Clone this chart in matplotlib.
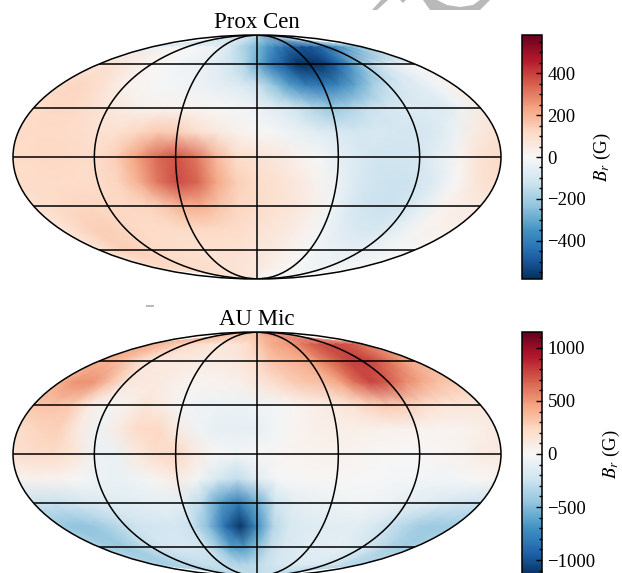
import matplotlib
matplotlib.use("Agg")
import matplotlib.pyplot as plt
import numpy as np
from matplotlib.colors import Normalize
from matplotlib.patches import Polygon
from matplotlib.ticker import MultipleLocator

plt.rcParams["font.family"] = ["Liberation Serif", "DejaVu Serif"]
plt.rcParams["mathtext.fontset"] = "stix"

lons = np.arange(-180, 181, 15)
lats = np.arange(-90, 91, 15)

# rows run from lat -90 up to lat +90, values in gauss
prox_br = [
    [70] * 13 + [10] * 12,
    [110, 110, 110, 110, 110, 105, 100, 95, 90, 85, 80, 70, 60, 45, 30, 15, 5, -5, -15, -20, -20, -20, -15, -10, -5],
    [85, 120, 140, 135, 115, 105, 100, 95, 90, 90, 90, 85, 70, 55, 35, 15, -5, -25, -40, -50, -45, -35, -20, -10, 0],
    [70, 110, 140, 140, 125, 115, 110, 110, 115, 120, 115, 105, 90, 70, 50, 25, -20, -60, -90, -100, -80, -40, 10, 30, 30],
    [90, 105, 120, 125, 120, 120, 125, 155, 205, 205, 160, 125, 110, 90, 70, 40, -20, -90, -120, -125, -110, -50, 25, 40, 50],
    [110, 110, 110, 110, 105, 130, 200, 310, 380, 340, 220, 140, 110, 90, 60, 25, -30, -90, -120, -125, -115, -70, 0, 75, 100],
    [110, 115, 120, 115, 100, 140, 230, 320, 370, 310, 190, 105, 85, 60, 30, -5, -50, -90, -115, -115, -105, -50, 20, 90, 110],
    [110, 115, 115, 105, 90, 95, 125, 150, 145, 95, 55, 25, 5, -10, -40, -65, -90, -100, -95, -100, -105, -90, -30, 50, 90],
    [100, 120, 120, 100, 70, 45, 25, 20, 15, 10, 0, -10, -30, -70, -110, -170, -220, -180, -130, -100, -85, -85, -85, -30, 50],
    [115, 125, 110, 70, 30, 10, -5, -15, -25, -40, -60, -85, -130, -230, -330, -400, -420, -380, -300, -200, -130, -90, -60, -20, 30],
    [80, 80, 60, 35, 15, 0, -15, -30, -45, -70, -110, -170, -280, -400, -480, -570, -590, -560, -480, -350, -230, -140, -70, -30, -10],
    [-40, -25, -15, -5, 5, -5, -15, -30, -60, -100, -160, -210, -260, -320, -380, -420, -470, -500, -510, -490, -450, -400, -340, -280, -220],
    [-150] * 25,
]

au_br = [
    [-300] * 25,
    [-350, -360, -370, -350, -310, -290, -270, -270, -290, -320, -340, -320, -290, -250, -220, -190, -170, -160, -160, -170, -190, -230, -270, -300, -320],
    [-360, -410, -420, -340, -260, -210, -190, -200, -230, -400, -620, -650, -480, -280, -190, -160, -130, -120, -110, -130, -180, -260, -350, -400, -370],
    [-420, -460, -440, -360, -270, -230, -210, -200, -250, -480, -850, -1120, -720, -330, -180, -160, -140, -130, -130, -180, -260, -340, -410, -420, -400],
    [-260, -260, -240, -190, -150, -130, -110, -100, -130, -300, -620, -800, -560, -230, -120, -90, -60, -40, -40, -70, -110, -140, -180, -230, -250],
    [40, 50, 40, 0, -70, -80, -50, 30, 90, -30, -180, -280, -130, -20, 0, 10, 10, 5, -5, -20, -30, -40, -30, 0, 30],
    [190, 220, 230, 150, -70, -80, 100, 220, 250, 100, -10, -40, 0, 25, 40, 50, 45, 30, 10, 0, 0, 20, 50, 90, 110],
    [200, 260, 270, 100, -60, 100, 220, 240, 90, -50, -90, -100, -90, -30, 30, 70, 80, 70, 60, 50, 40, 30, 30, 60, 100],
    [320, 340, 300, 100, -30, 60, 150, 80, -30, -60, -70, -70, -50, -20, 20, 70, 100, 170, 260, 300, 280, 200, 150, 140, 130],
    [420, 520, 520, 350, 150, 120, 100, 70, 40, 40, 50, 70, 130, 200, 280, 330, 350, 450, 650, 780, 700, 550, 440, 350, 300],
    [430, 400, 320, 220, 130, 110, 110, 100, 90, 100, 110, 150, 220, 330, 360, 400, 450, 580, 680, 780, 800, 740, 620, 500, 400],
    [400, 380, 340, 300, 260, 220, 180, 150, 140, 150, 170, 220, 300, 380, 450, 480, 520, 600, 670, 710, 730, 750, 750, 720, 650],
    [350] * 25,
]

names = ["Prox Cen", "AU Mic"]
vmaxs = [581, 1150]
major_steps = [200, 500]
minor_steps = [50, 100]
fields = [prox_br, au_br]

W, H = 622, 573
tops = [35, 332]

# grey scraps from the page behind the figure, in pixels from top left
scraps = [
    [(372, 10), (377, 10), (388, 0), (381, 0)],
    [(400, 0), (403, 3), (406, 0)],
    [(423, 0), (430, 10), (480, 10), (490, 0), (480, 0), (473, 5), (460, 7), (447, 5), (437, 0)],
    [(146, 305), (154, 305), (154, 307), (146, 307)],
]

fig = plt.figure(figsize=(W / 100, H / 100), dpi=100)

lon_grid, lat_grid = np.meshgrid(np.radians(lons), np.radians(lats))
# keep the mesh just inside the map edge
lon_grid = lon_grid * 0.9999
lat_grid = lat_grid * 0.9999

for i in range(2):
    top = tops[i]
    ax = fig.add_axes([12 / W, (H - top - 244) / H, 490 / W, 244 / H], projection="mollweide")
    norm = Normalize(-vmaxs[i], vmaxs[i])
    m = ax.pcolormesh(lon_grid, lat_grid, np.array(fields[i], dtype=float),
                      cmap="RdBu_r", norm=norm, shading="gouraud", rasterized=True)
    ax.set_longitude_grid(60)
    ax.set_latitude_grid(30)
    ax.set_longitude_grid_ends(90)
    ax.set_xticklabels([])
    ax.set_yticklabels([])
    ax.grid(True, color="k", lw=1.1)
    for s in ax.spines.values():
        s.set_linewidth(1.1)
    ax.set_title(names[i], fontsize=16.5, pad=5)

    cax = fig.add_axes([522 / W, (H - top - 244) / H, 20 / W, 244 / H])
    cb = fig.colorbar(m, cax=cax)
    cb.ax.yaxis.set_major_locator(MultipleLocator(major_steps[i]))
    cb.ax.yaxis.set_minor_locator(MultipleLocator(minor_steps[i]))
    cb.ax.tick_params(which="major", direction="in", length=4.5, width=1, labelsize=13.5, pad=4)
    cb.ax.tick_params(which="minor", direction="in", length=2.5, width=1)
    cb.set_label(r"$B_r$ (G)", fontsize=13.5)
    cb.outline.set_linewidth(1.1)

for pts in scraps:
    xy = [(x / W, 1 - y / H) for x, y in pts]
    fig.add_artist(Polygon(xy, closed=True, transform=fig.transFigure, fc="#b9b9b9", ec="none"))

fig.savefig("out.png", dpi=100)
